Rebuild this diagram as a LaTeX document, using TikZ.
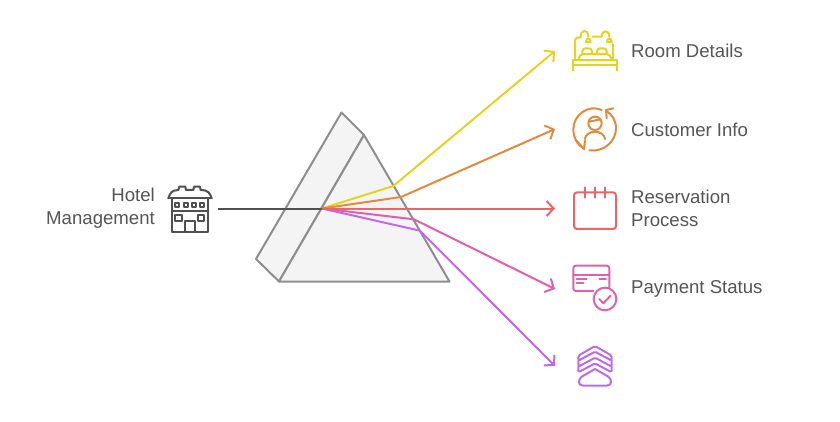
\documentclass[tikz,border=0pt]{standalone}
\usepackage{fontspec}
\setmainfont{Liberation Sans}
\usetikzlibrary{arrows.meta}
\definecolor{cyel}{HTML}{E6D320}
\definecolor{cora}{HTML}{E28B3D}
\definecolor{cred}{HTML}{E96666}
\definecolor{cpin}{HTML}{E060B0}
\definecolor{cpur}{HTML}{BE6BE8}
\definecolor{cgry}{HTML}{8E8E8E}
\definecolor{ctxt}{HTML}{555555}
\definecolor{cdrk}{HTML}{505050}
\tikzset{
  prismface/.style={draw=cgry,fill=black!4.5,line width=2pt,line join=round},
  ray/.style={line width=2pt,line join=miter},
  rayout/.style={ray,-{Straight Barb[length=7pt,width=15pt,line width=2pt]}},
  icon/.style={line width=2pt,line cap=round,line join=round},
  lbl/.style={text=ctxt,font=\fontsize{18.6}{23}\selectfont,inner sep=0pt},
  zone/.style={x=0.3333pt,y=-0.3333pt}
}
\begin{document}
\begin{tikzpicture}[x=1pt,y=-1pt]
\useasboundingbox (0,0) rectangle (840,422);
\fill[white] (0,0) rectangle (840,422);
% prism
\coordinate (pa) at (341.5,112.5);
\coordinate (pb) at (364,135);
\coordinate (pc) at (449.5,281.5);
\coordinate (pd) at (279,281.5);
\coordinate (pe) at (256,259);
\draw[prismface] (pa) -- (pb) -- (pd) -- (pe) -- cycle;
\draw[prismface] (pb) -- (pc) -- (pd) -- cycle;
% anchors
\coordinate (src) at (218,208.5);
\coordinate (hub) at (322,208.5);
\coordinate (by) at (393.3,186);
\coordinate (bo) at (401,197);
\coordinate (bp) at (414,219.3);
\coordinate (bv) at (420,230.7);
\coordinate (ty) at (555,51);
\coordinate (to) at (555,129);
\coordinate (tr) at (555,208.5);
\coordinate (tp) at (555,289);
\coordinate (tv) at (555,366);
% rays
\draw[ray,cdrk] (src) -- (hub);
\draw[rayout,cyel] (hub) -- (by) -- (ty);
\draw[rayout,cora] (hub) -- (bo) -- (to);
\draw[rayout,cpur] (hub) -- (bv) -- (tv);
\draw[rayout,cpin] (hub) -- (bp) -- (tp);
\draw[rayout,cred] (hub) -- (tr);
% labels
\node[lbl,align=right,anchor=east] (hotel) at (155,208.5) {Hotel\\Management};
\node[lbl,anchor=west] (room) at (631,51) {Room Details};
\node[lbl,anchor=west] (cust) at (631,129.5) {Customer Info};
\node[lbl,align=left,anchor=west] (resv) at (631,208.5) {Reservation\\Process};
\node[lbl,anchor=west] (pay) at (631,288.5) {Payment Status};
% hotel icon
\begin{scope}[shift={(160,175)},zone,icon,cdrk]
\draw (35,70) rectangle (145,170);
\draw (35,108) -- (145,108);
\draw (25,70) -- (155,70);
\draw (25,70) .. controls (30,55) and (35,45) .. (55,45) -- (58,35) -- (76,35) -- (78,45) -- (100,45) -- (102,35) -- (120,35) -- (122,45) .. controls (145,45) and (150,55) .. (155,70);
\foreach \xx in {45,71,97,121} \draw (\xx,85) rectangle ++(12,11);
\draw (45,120) rectangle (65,137);
\draw (115,120) rectangle (133,137);
\draw (75,170) -- (75,137) -- (105,137) -- (105,170);
\end{scope}
% bed icon
\begin{scope}[shift={(550,20)},zone,icon,cyel]
\draw (75,120) -- (75,62) .. controls (75,52) and (85,52) .. (92,52) .. controls (90,28) and (115,25) .. (115,50);
\draw (108,66) .. controls (108,52) and (122,52) .. (122,66) -- cycle;
\draw (128,50) -- (155,50) .. controls (155,28) and (178,28) .. (178,50);
\draw (171,66) .. controls (171,52) and (185,52) .. (185,66) -- cycle;
\draw (190,120) -- (190,72);
\draw (68,120) -- (200,120);
\draw (68,120) -- (68,152);
\draw (200,120) -- (200,152);
\draw (68,135) -- (200,135);
\draw (85,120) .. controls (88,108) and (92,102) .. (100,102) -- (170,102) .. controls (178,102) and (182,108) .. (185,120);
\draw[rounded corners=3pt] (97,102) -- (97,85) -- (126,85) -- (126,102);
\draw[rounded corners=3pt] (141,102) -- (141,85) -- (170,85) -- (170,102);
\end{scope}
% customer icon
\begin{scope}[shift={(550,20)},zone,icon,cora]
\draw (155,270) .. controls (115,252) and (70,285) .. (70,327) .. controls (70,350) and (80,375) .. (102,385);
\draw (80,362) -- (102,388) -- (105,362);
\draw (118,391) .. controls (160,397) and (198,365) .. (198,325) .. controls (198,300) and (185,282) .. (168,272);
\draw (190,265) -- (168,270) -- (170,295);
\draw (135,310) circle[radius=20];
\draw (117,305) -- (152,298);
\draw (105,357) .. controls (105,345) and (120,335) .. (135,335) .. controls (150,335) and (165,345) .. (165,357);
\end{scope}
% calendar icon
\begin{scope}[shift={(550,175)},zone,icon,cred]
\draw[rounded corners=3pt] (72,52) rectangle (198,162);
\foreach \xx in {105,135,165} \draw (\xx,37) -- (\xx,68);
\end{scope}
% payment icon
\begin{scope}[shift={(550,175)},zone,icon,cpin]
\draw[rounded corners=2.5pt] (130,348) -- (70,348) -- (70,272) -- (178,272) -- (178,337);
\draw (70,300) -- (178,300);
\draw (80,312) -- (110,312);
\draw (80,325) -- (100,325);
\draw (148,312) -- (168,312);
\draw (165,372) circle[radius=34];
\draw (148,372) -- (160,385) -- (182,362);
\end{scope}
% stack icon
\begin{scope}[shift={(540,335)},zone,icon,cpur]
\draw[rounded corners=1.5pt] (115,62) -- (165,33) -- (215,62) -- (215,77) -- (165,50) -- (115,77) -- cycle;
\draw[rounded corners=1.5pt] (115,77) -- (115,95) -- (165,68) -- (215,95) -- (215,77);
\draw[rounded corners=1.5pt] (115,95) -- (115,112) -- (165,85) -- (215,112) -- (215,95);
\draw (125,125) -- (165,102) -- (205,125) .. controls (215,132) and (218,152) .. (200,152) -- (130,152) .. controls (112,152) and (115,132) .. (125,125) -- cycle;
\end{scope}
\end{tikzpicture}
\end{document}
